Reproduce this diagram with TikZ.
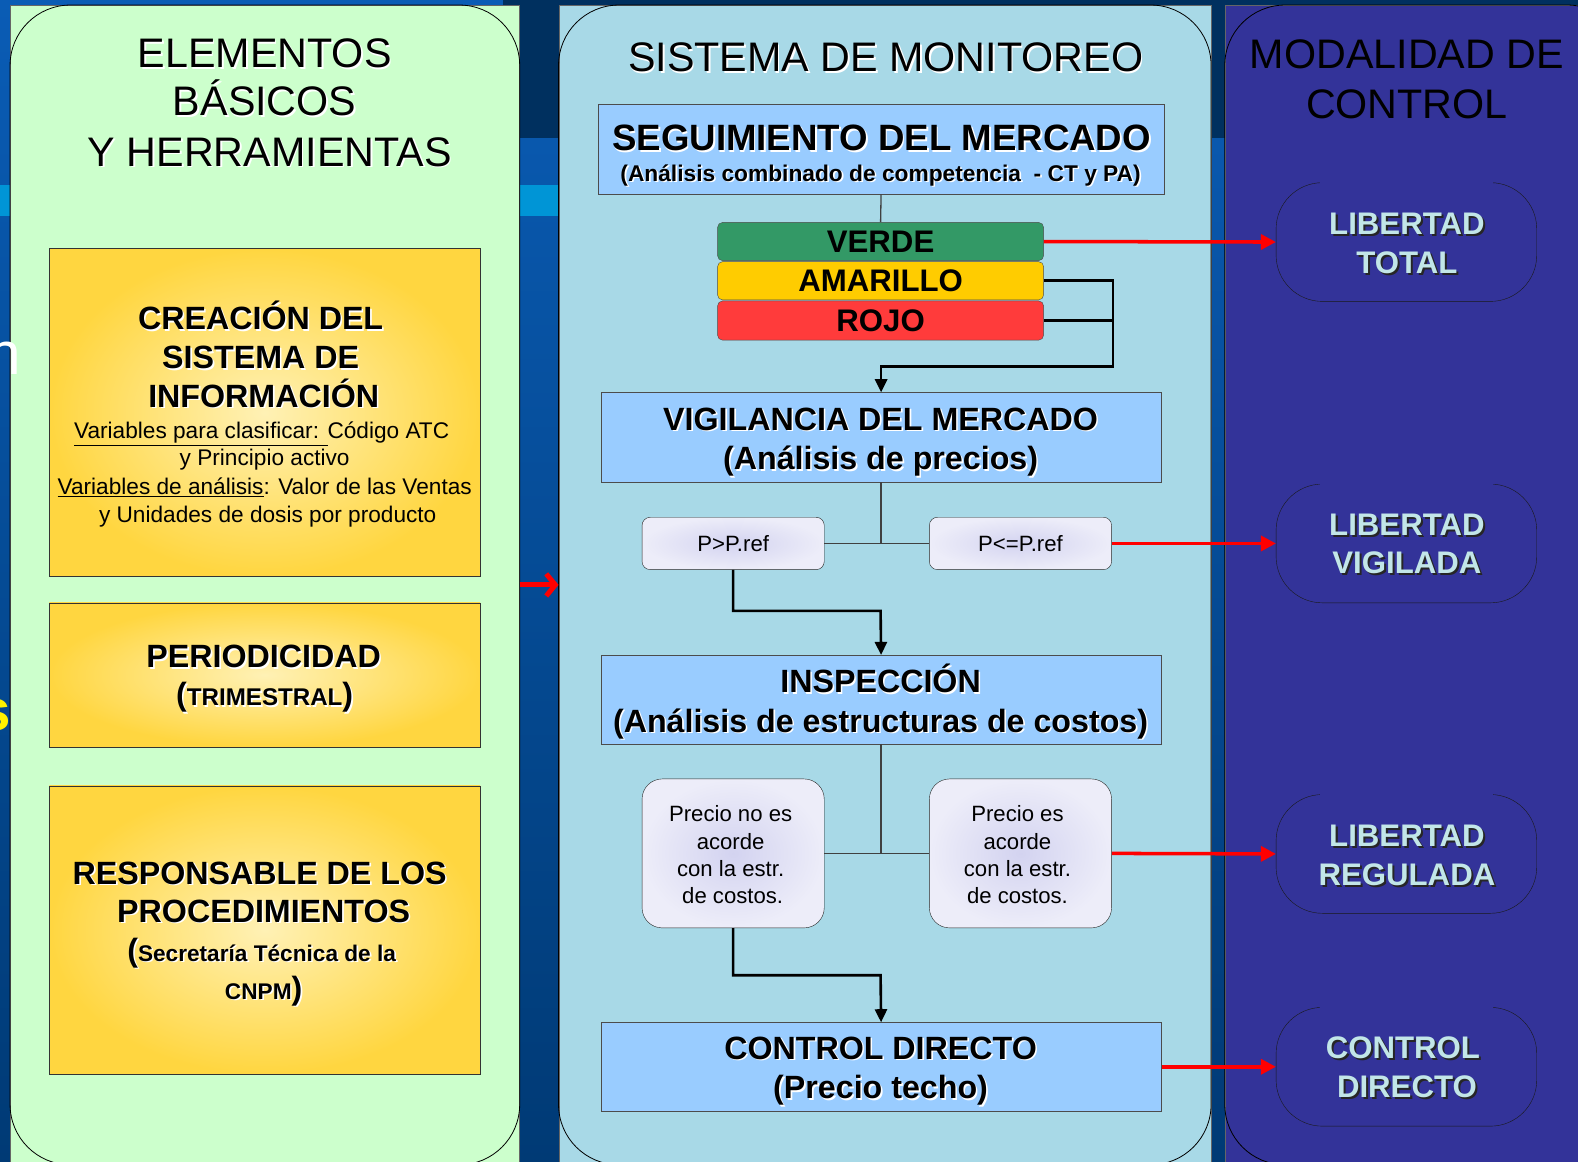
\documentclass[tikz,border=0pt]{standalone}
\usepackage{fontspec}
\setmainfont{Liberation Sans}
\usetikzlibrary{arrows.meta}

\definecolor{bgtop}{HTML}{0A5CB5}
\definecolor{bgbot}{HTML}{003A75}
\definecolor{bgdark}{HTML}{00305F}
\definecolor{bgcyan}{HTML}{0095D6}
\definecolor{elemgreen}{HTML}{CCFFCC}
\definecolor{monblue}{HTML}{A8D9E7}
\definecolor{ctrlnavy}{HTML}{333399}
\definecolor{stepblue}{HTML}{99CCFF}
\definecolor{goldedge}{HTML}{FFD640}
\definecolor{goldcenter}{HTML}{FFF1B5}
\definecolor{verde}{HTML}{339966}
\definecolor{amarillo}{HTML}{FFCC00}
\definecolor{rojo}{HTML}{FF3B3B}
\definecolor{lavedge}{HTML}{EDEDF9}
\definecolor{lavcenter}{HTML}{D3D3F0}
\definecolor{ovaltext}{HTML}{C2E6E8}

\newcommand{\wshadow}[1]{\makebox[0pt][l]{\hspace{1.6pt}\raisebox{-1.6pt}{\color{white}#1}}#1}
\newcommand{\dshadow}[1]{\makebox[0pt][l]{\hspace{2pt}\raisebox{-2pt}{\color{black!85}#1}}#1}

\begin{document}
\begin{tikzpicture}[x=1pt,y=-1pt]
\tikzstyle{panel} = [draw=black!60, inner sep=0pt, anchor=north west, minimum height=1152]
\tikzstyle{outline} = [draw=black, line width=0.8pt, rounded corners=60pt]
\tikzstyle{goldbox} = [draw=black!80, inner sep=0pt, minimum width=428, inner color=goldcenter, outer color=goldedge]
\tikzstyle{stepbox} = [draw=black!70, inner sep=0pt, fill=stepblue, minimum width=557]
\tikzstyle{light} = [draw=black!85, inner sep=0pt, minimum width=181, inner color=lavcenter, outer color=lavedge]
\tikzstyle{bar} = [draw=black!70, inner sep=0pt, rounded corners=5pt, minimum width=324, font=\fontsize{31}{31}\selectfont\bfseries]
\tikzstyle{oval} = [draw=black!90, fill=ctrlnavy, inner sep=0pt, rounded corners=46pt, minimum width=259, minimum height=118]
\tikzstyle{bigtitle} = [anchor=base, inner sep=0pt, font=\fontsize{41}{41}\selectfont]
\tikzstyle{boldtitle} = [anchor=base, inner sep=0pt, font=\fontsize{32}{32}\selectfont\bfseries]
\tikzstyle{info} = [anchor=base, inner sep=0pt, font=\fontsize{22.5}{22.5}\selectfont]
\tikzstyle{ovallabel} = [anchor=base, inner sep=0pt, text=ovaltext, font=\fontsize{31}{31}\selectfont\bfseries]
\tikzstyle{link} = [draw=black!75, line width=1.3pt]
\tikzstyle{thick} = [draw=black, line width=2.6pt]
\tikzstyle{flow} = [draw=black, line width=2.6pt, -{Triangle[length=13pt,width=12pt]}]
\tikzstyle{redarrow} = [draw=red, line width=3.5pt, -{Triangle[length=15pt,width=15pt]}]

\useasboundingbox (0,0) rectangle (1568,1154);
\clip (0,0) rectangle (1568,1154);

\shade[top color=bgtop, bottom color=bgbot] (0,0) rectangle (1568,1154);
\fill[bgdark] (500,0) rectangle (1568,137);
\fill[bgcyan] (0,184) rectangle (560,215);
\node[anchor=base east, inner sep=0pt, text=yellow, font=\fontsize{58}{58}\selectfont\bfseries] (bgs) at (11,726) {s};

\node[panel, fill=elemgreen, minimum width=506] (elem) at (10,5) {};
\draw[outline] (elem.north west) rectangle (elem.south east);
\node[panel, fill=monblue, minimum width=648] (sist) at (555,5) {};
\draw[outline] (sist.north west) rectangle (sist.south east);
\node[panel, fill=ctrlnavy, minimum width=400] (modal) at (1217,5) {};
\draw[outline] (modal.north west) rectangle (modal.south east);

\node[anchor=base east, inner sep=0pt, text=white, font=\fontsize{60}{60}\selectfont] (bgn) at (21,372) {n};

\draw[draw=red, line width=5pt, -{Straight Barb[length=9pt,width=22pt]}] (elem.east) -- (sist.west);

\node[bigtitle] (elemt1) at (263,67) {\wshadow{ELEMENTOS}};
\node[bigtitle] (elemt2) at (263,115) {\wshadow{BÁSICOS}};
\node[bigtitle] (elemt3) at (268,165) {\wshadow{Y HERRAMIENTAS}};

\node[goldbox, minimum height=326] (creacion) at (263,410) {};
\node[boldtitle] (creacion1) at (259,327.5) {\wshadow{CREACIÓN DEL}};
\node[boldtitle] (creacion2) at (259,366.5) {\wshadow{SISTEMA DE}};
\node[boldtitle] (creacion3) at (262,404.5) {\wshadow{INFORMACIÓN}};
\node[info] (creacion4) at (260,436) {\underline{Variables para clasificar: }Código ATC};
\node[info] (creacion5) at (263,463) {y Principio activo};
\node[info] (creacion6) at (263,491) {\underline{Variables de análisis}: Valor de las Ventas};
\node[info] (creacion7) at (266,519) {y Unidades de dosis por producto};

\node[goldbox, minimum height=143] (periodo) at (263,670.5) {};
\node[boldtitle] (periodo1) at (262,663.5) {\wshadow{PERIODICIDAD}};
\node[boldtitle] (periodo2) at (263,701.5) {\wshadow{(}{\fontsize{24}{24}\selectfont\wshadow{TRIMESTRAL}}\wshadow{)}};

\node[goldbox, minimum height=286] (respons) at (263,924) {};
\node[boldtitle] (respons1) at (258,878.5) {\wshadow{RESPONSABLE DE LOS}};
\node[boldtitle] (respons2) at (262,916.5) {\wshadow{PROCEDIMIENTOS}};
\node[boldtitle] (respons3) at (260,955) {\wshadow{(}{\fontsize{22.5}{22.5}\selectfont\wshadow{Secretaría Técnica de la}}};
\node[boldtitle] (respons4) at (262,993) {{\fontsize{22.5}{22.5}\selectfont\wshadow{CNPM}}\wshadow{)}};

\node[bigtitle] (sistt) at (880,71) {\wshadow{SISTEMA DE MONITOREO}};

\node[stepbox, minimum width=563, minimum height=89] (segui) at (875.5,148.5) {};
\node[anchor=base, inner sep=0pt, font=\fontsize{36.4}{36.4}\selectfont\bfseries] (segui1) at (876,150) {\wshadow{SEGUIMIENTO DEL MERCADO}};
\node[anchor=base, inner sep=0pt, font=\fontsize{22.6}{22.6}\selectfont\bfseries] (segui2) at (875,180) {\wshadow{(Análisis combinado de competencia~ - CT y PA)}};

\node[bar, fill=verde, minimum height=38] (verde) at (875,240) {VERDE};
\node[bar, fill=amarillo, minimum height=38] (amarillo) at (875,279) {AMARILLO};
\node[bar, fill=rojo, minimum height=39] (rojo) at (875,318.5) {ROJO};

\node[stepbox, minimum height=89] (vigil) at (875.5,434.5) {};
\node[boldtitle] (vigil1) at (875,427.5) {\wshadow{VIGILANCIA DEL MERCADO}};
\node[boldtitle] (vigil2) at (875,466.5) {\wshadow{(Análisis de precios)}};

\node[light, rounded corners=8pt, minimum height=52] (pmayor) at (728.5,540) {};
\node[info, font=\fontsize{22}{22}\selectfont] (pmayor1) at (728.5,548) {P>P.ref};
\node[light, rounded corners=8pt, minimum height=52] (pmenor) at (1014,540) {};
\node[info, font=\fontsize{22}{22}\selectfont] (pmenor1) at (1014,548) {P<=P.ref};

\node[stepbox, minimum height=88] (inspec) at (875.5,695) {};
\node[boldtitle] (inspec1) at (875,688.5) {\wshadow{INSPECCIÓN}};
\node[boldtitle] (inspec2) at (875,727.5) {\wshadow{(Análisis de estructuras de costos)}};

\node[light, rounded corners=20pt, minimum height=148] (noacorde) at (728.5,848) {};
\node[info, font=\fontsize{22}{22}\selectfont] (noacorde1) at (726,816) {Precio no es};
\node[info, font=\fontsize{22}{22}\selectfont] (noacorde2) at (726,844) {acorde};
\node[info, font=\fontsize{22}{22}\selectfont] (noacorde3) at (726,871) {con la estr.};
\node[info, font=\fontsize{22}{22}\selectfont] (noacorde4) at (728,898) {de costos.};
\node[light, rounded corners=20pt, minimum height=148] (acorde) at (1014,848) {};
\node[info, font=\fontsize{22}{22}\selectfont] (acorde1) at (1011,816) {Precio es};
\node[info, font=\fontsize{22}{22}\selectfont] (acorde2) at (1011,844) {acorde};
\node[info, font=\fontsize{22}{22}\selectfont] (acorde3) at (1011,871) {con la estr.};
\node[info, font=\fontsize{22}{22}\selectfont] (acorde4) at (1011,898) {de costos.};

\node[stepbox, minimum height=88] (control) at (875.5,1060) {};
\node[boldtitle] (control1) at (875,1052.5) {\wshadow{CONTROL DIRECTO}};
\node[boldtitle] (control2) at (875,1091.5) {\wshadow{(Precio techo)}};

\coordinate (merge) at (1106,364);
\coordinate (split1) at (875,607);
\coordinate (split2) at (875,969);

\draw[link] (segui.south) -- (verde.north);
\draw[flow] (amarillo.east) -| (merge) -| (vigil.north);
\draw[thick] (rojo.east) -- (rojo.east -| merge);
\draw[link] (vigil.south) -- (vigil.south |- pmayor.east);
\draw[link] (pmayor.east) -- (pmenor.west);
\draw[flow] (pmayor.south) |- (split1) -- (inspec.north);
\draw[link] (inspec.south) -- (inspec.south |- acorde.west);
\draw[link] (noacorde.east) -- (acorde.west);
\draw[flow] (noacorde.south) |- (split2) -- (control.north);

\node[bigtitle] (modalt1) at (1398,68) {MODALIDAD DE};
\node[bigtitle] (modalt2) at (1398,118) {CONTROL};

\node[oval] (ltotal) at (1397.5,240.5) {};
\node[oval] (lvigilada) at (1397.5,540) {};
\node[oval] (lregulada) at (1397.5,848.5) {};
\node[oval] (cdirecto) at (1397.5,1060) {};
\draw[ctrlnavy, line width=1.6pt] ([xshift=44]ltotal.north west) -- ([xshift=-44]ltotal.north east);
\draw[ctrlnavy, line width=1.6pt] ([xshift=44]lvigilada.north west) -- ([xshift=-44]lvigilada.north east);
\draw[ctrlnavy, line width=1.6pt] ([xshift=44]lregulada.north west) -- ([xshift=-44]lregulada.north east);
\draw[ctrlnavy, line width=1.6pt] ([xshift=44]cdirecto.north west) -- ([xshift=-44]cdirecto.north east);

\node[ovallabel] (ltotal1) at (1398,233) {\dshadow{LIBERTAD}};
\node[ovallabel] (ltotal2) at (1398,272) {\dshadow{TOTAL}};
\node[ovallabel] (lvigilada1) at (1398,532) {\dshadow{LIBERTAD}};
\node[ovallabel] (lvigilada2) at (1398,570) {\dshadow{VIGILADA}};
\node[ovallabel] (lregulada1) at (1398,841) {\dshadow{LIBERTAD}};
\node[ovallabel] (lregulada2) at (1398,880) {\dshadow{REGULADA}};
\node[ovallabel] (cdirecto1) at (1394,1052) {\dshadow{CONTROL}};
\node[ovallabel] (cdirecto2) at (1398,1091) {\dshadow{DIRECTO}};

\draw[redarrow] (verde.east) -- (ltotal.west);
\draw[redarrow] (pmenor.east) -- (lvigilada.west);
\draw[redarrow] (acorde.east) -- (lregulada.west);
\draw[redarrow] (control.east) -- (cdirecto.west);

\end{tikzpicture}
\end{document}
